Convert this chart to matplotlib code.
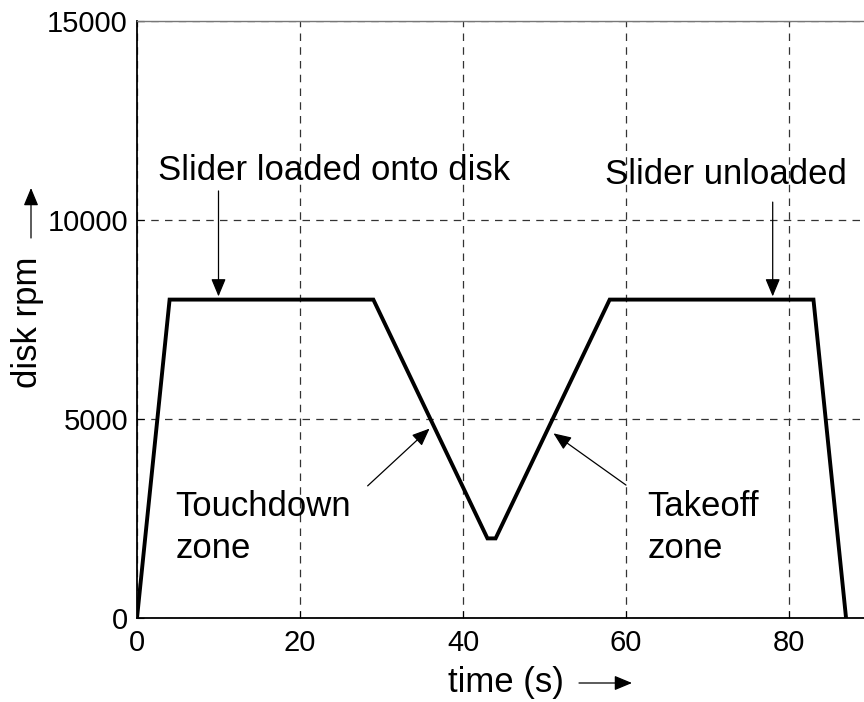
import matplotlib.pyplot as plt
from matplotlib.patches import FancyArrowPatch

# disk speed profile (time in s, speed in rpm)
time_s = [0, 4, 29, 43, 44, 58, 83, 87]
rpm = [0, 8000, 8000, 2000, 2000, 8000, 8000, 0]

xticks = [0, 20, 40, 60, 80]
yticks = [0, 5000, 10000, 15000]

plt.rcParams['font.family'] = ['Liberation Sans', 'DejaVu Sans']

fig = plt.figure(figsize=(8.64, 7.02), dpi=100)
W, H = 864, 702
# axes runs past the right edge (cropped like the original)
ax = fig.add_axes([137 / W, (H - 618) / H, (952 - 137) / W, (618 - 21) / H])

ax.plot(time_s, rpm, color='black', lw=2.8, solid_joinstyle='miter')

ax.set_xlim(0, 100)
ax.set_ylim(0, 15000)
ax.set_xticks(xticks)
ax.set_yticks(yticks)
ax.tick_params(labelsize=21, direction='in', length=5)
ax.tick_params(axis='x', pad=8)
ax.tick_params(axis='y', pad=6.5)
ax.grid(True, color='#333333', linestyle=(0, (6, 5)), lw=0.9)

for side in ['left', 'bottom']:
    ax.spines[side].set_linewidth(1.3)
ax.spines['top'].set_color('#777777')
ax.spines['top'].set_linewidth(1.0)

fs = 25
astyle = '-|>,head_length=0.6,head_width=0.25'
aprops = dict(arrowstyle=astyle, color='black', lw=0.9, mutation_scale=18,
              shrinkA=0, shrinkB=0)

ax.text(24.2, 11000, 'Slider loaded onto disk', fontsize=fs, ha='center', va='baseline')
ax.annotate('', xy=(10, 8080), xytext=(10, 10730), arrowprops=aprops)

ax.text(72.3, 10900, 'Slider unloaded', fontsize=fs, ha='center', va='baseline')
ax.annotate('', xy=(78, 8080), xytext=(78, 10450), arrowprops=aprops)

ax.text(4.7, 2560, 'Touchdown', fontsize=fs, ha='left', va='baseline')
ax.text(4.7, 1520, 'zone', fontsize=fs, ha='left', va='baseline')
ax.annotate('', xy=(35.9, 4760), xytext=(28.3, 3320), arrowprops=aprops)

ax.text(62.6, 2560, 'Takeoff', fontsize=fs, ha='left', va='baseline')
ax.text(62.6, 1520, 'zone', fontsize=fs, ha='left', va='baseline')
ax.annotate('', xy=(51.1, 4640), xytext=(60.0, 3340), arrowprops=aprops)

# axis labels with trailing arrows
fig.text(506 / W, 1 - 692 / H, 'time (s)', fontsize=fs, ha='center', va='baseline')
fig.add_artist(FancyArrowPatch(
    (579 / W, 1 - 683 / H), (632 / W, 1 - 683 / H), transform=fig.transFigure,
    **aprops))

fig.text(27 / W, 1 - 322 / H, 'disk rpm', fontsize=fs, ha='center', va='center', rotation=90)
fig.add_artist(FancyArrowPatch(
    (31 / W, 1 - 238 / H), (31 / W, 1 - 188 / H), transform=fig.transFigure,
    **aprops))

fig.savefig('out.png', dpi=100)
